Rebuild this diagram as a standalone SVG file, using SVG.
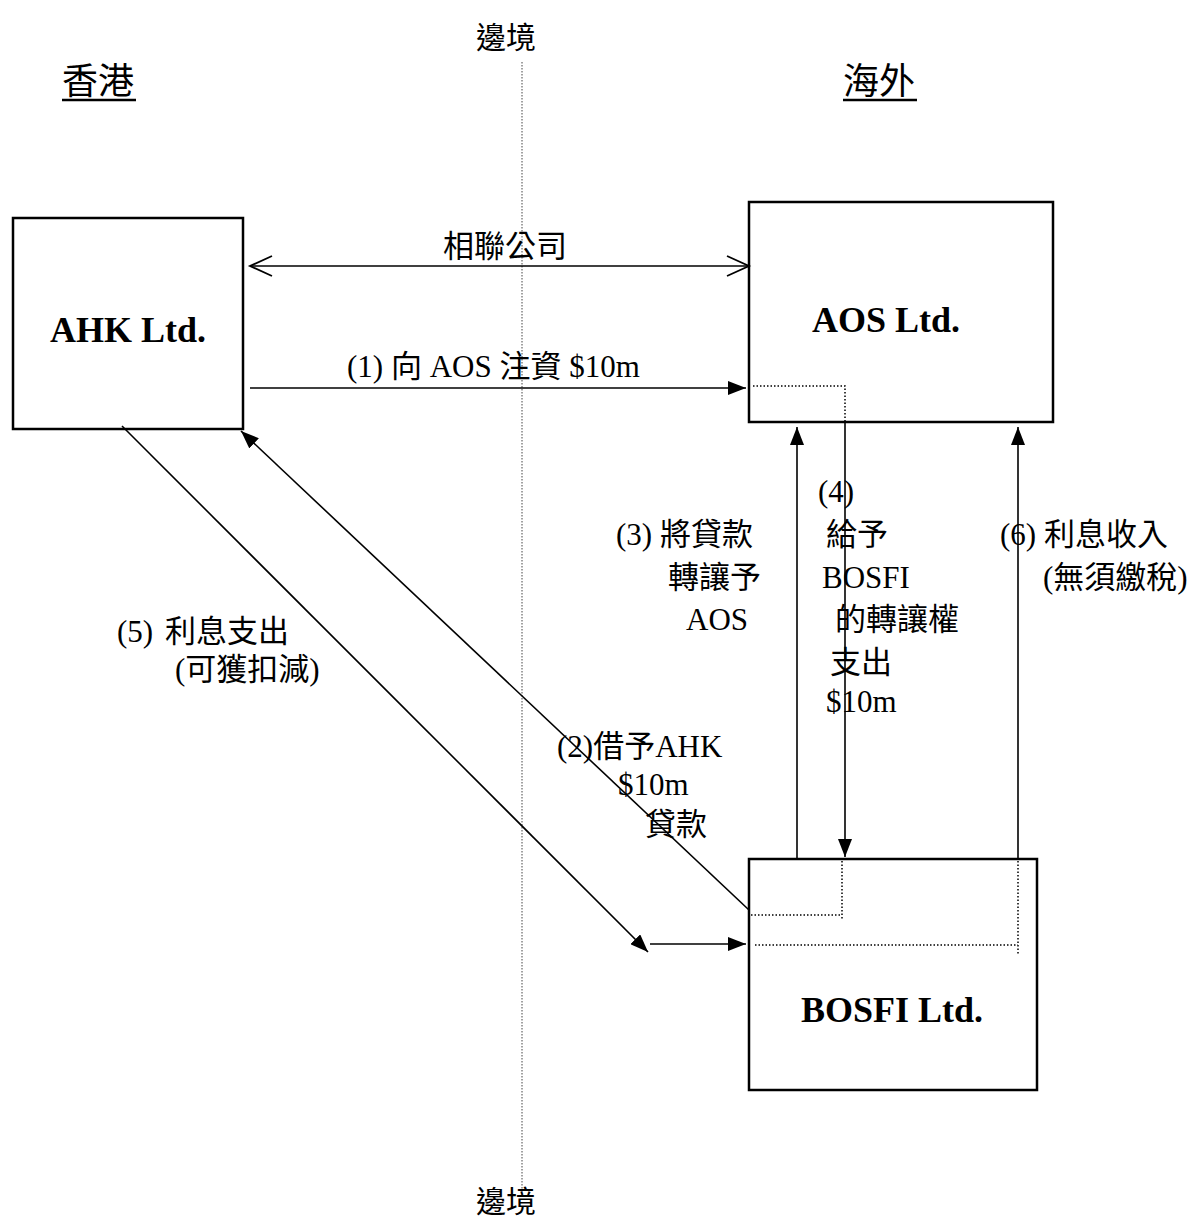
<svg xmlns="http://www.w3.org/2000/svg" width="1196" height="1221" viewBox="0 0 1196 1221">
<style>
text{font-family:"Liberation Serif","Noto Sans CJK TC",serif;fill:#000}
.lbl{font-size:31px}
.head{font-size:36px;font-family:"Noto Sans CJK TC","Liberation Serif",serif}
.bord{font-size:30px;font-family:"Noto Sans CJK TC","Liberation Serif",serif}
.box{fill:#fff;stroke:#000;stroke-width:2.5}
.name{font-size:36px;font-weight:bold;text-anchor:middle}
.ln{stroke:#000;stroke-width:1.6;fill:none}
.dot{stroke:#000;stroke-width:1.5;fill:none;stroke-dasharray:1.5 2}
</style>
<defs>
<marker id="fa" markerUnits="userSpaceOnUse" markerWidth="20" markerHeight="14" refX="18" refY="7" orient="auto"><path d="M0,0 L18,7 L0,14 z" fill="#000"/></marker>
<marker id="oa" markerUnits="userSpaceOnUse" markerWidth="26" markerHeight="24" refX="23" refY="12" orient="auto-start-reverse"><path d="M1,2 L23,12 L1,22" fill="none" stroke="#000" stroke-width="1.8"/></marker>
</defs>
<g id="border">
<line x1="522" y1="62" x2="522" y2="1192" stroke="#444" stroke-width="1" stroke-dasharray="1.5 1.5"/>
<text class="bord" x="476" y="48">邊境</text>
<text class="bord" x="476" y="1212">邊境</text>
</g>
<g id="headings">
<text class="head" x="62" y="94">香港</text>
<line x1="62" y1="100" x2="136" y2="100" stroke="#000" stroke-width="2.5"/>
<text class="head" x="843" y="94">海外</text>
<line x1="843" y1="100" x2="917" y2="100" stroke="#000" stroke-width="2.5"/>
</g>
<g id="AHK"><rect class="box" x="13" y="218" width="230" height="211"/><text class="name" x="128" y="342">AHK Ltd.</text></g>
<g id="AOS"><rect class="box" x="749" y="202" width="304" height="220"/><text class="name" x="886" y="332">AOS Ltd.</text></g>
<g id="BOSFI"><rect class="box" x="749" y="859" width="288" height="231"/><text class="name" x="892" y="1022">BOSFI Ltd.</text></g>
<g id="connectors">
<line class="ln" x1="250" y1="266" x2="749" y2="266" marker-start="url(#oa)" marker-end="url(#oa)"/>
<line class="ln" x1="250" y1="388" x2="746" y2="388" marker-end="url(#fa)"/>
<path class="dot" d="M753,386 H845 V422"/>
<line class="ln" x1="845" y1="422" x2="845" y2="857" marker-end="url(#fa)"/>
<path class="dot" d="M842,861 V920 M751,915 H842"/>
<line class="ln" x1="797" y1="859" x2="797" y2="427" marker-end="url(#fa)"/>
<line class="ln" x1="1018" y1="859" x2="1018" y2="427" marker-end="url(#fa)"/>
<path class="dot" d="M1018,861 V955 M755,945 H1018"/>
<line class="ln" x1="749" y1="910" x2="241" y2="431" marker-end="url(#fa)"/>
<line class="ln" x1="122" y1="426" x2="648" y2="952" marker-end="url(#fa)"/>
<line class="ln" x1="650" y1="944" x2="746" y2="944" marker-end="url(#fa)"/>
</g>
<g id="labels" class="lbl">
<text class="lbl" x="443" y="257">相聯公司</text>
<text class="lbl" x="347" y="377">(1) 向 AOS 注資 $10m</text>
<text class="lbl" x="818" y="502">(4)</text>
<text class="lbl" x="616" y="545">(3) 將貸款</text>
<text class="lbl" x="826" y="545">給予</text>
<text class="lbl" x="1000" y="545">(6) 利息收入</text>
<text class="lbl" x="668" y="588">轉讓予</text>
<text class="lbl" x="822" y="588">BOSFI</text>
<text class="lbl" x="1043" y="588">(無須繳稅)</text>
<text class="lbl" x="686" y="630">AOS</text>
<text class="lbl" x="835" y="630">的轉讓權</text>
<text class="lbl" x="830" y="673">支出</text>
<text class="lbl" x="826" y="712">$10m</text>
<text class="lbl" x="117" y="642">(5)<tspan x="165">利息支出</tspan></text>
<text class="lbl" x="175" y="680">(可獲扣減)</text>
<text class="lbl" x="557" y="757">(2)借予AHK</text>
<text class="lbl" x="618" y="795">$10m</text>
<text class="lbl" x="645" y="835">貸款</text>
</g>
</svg>
